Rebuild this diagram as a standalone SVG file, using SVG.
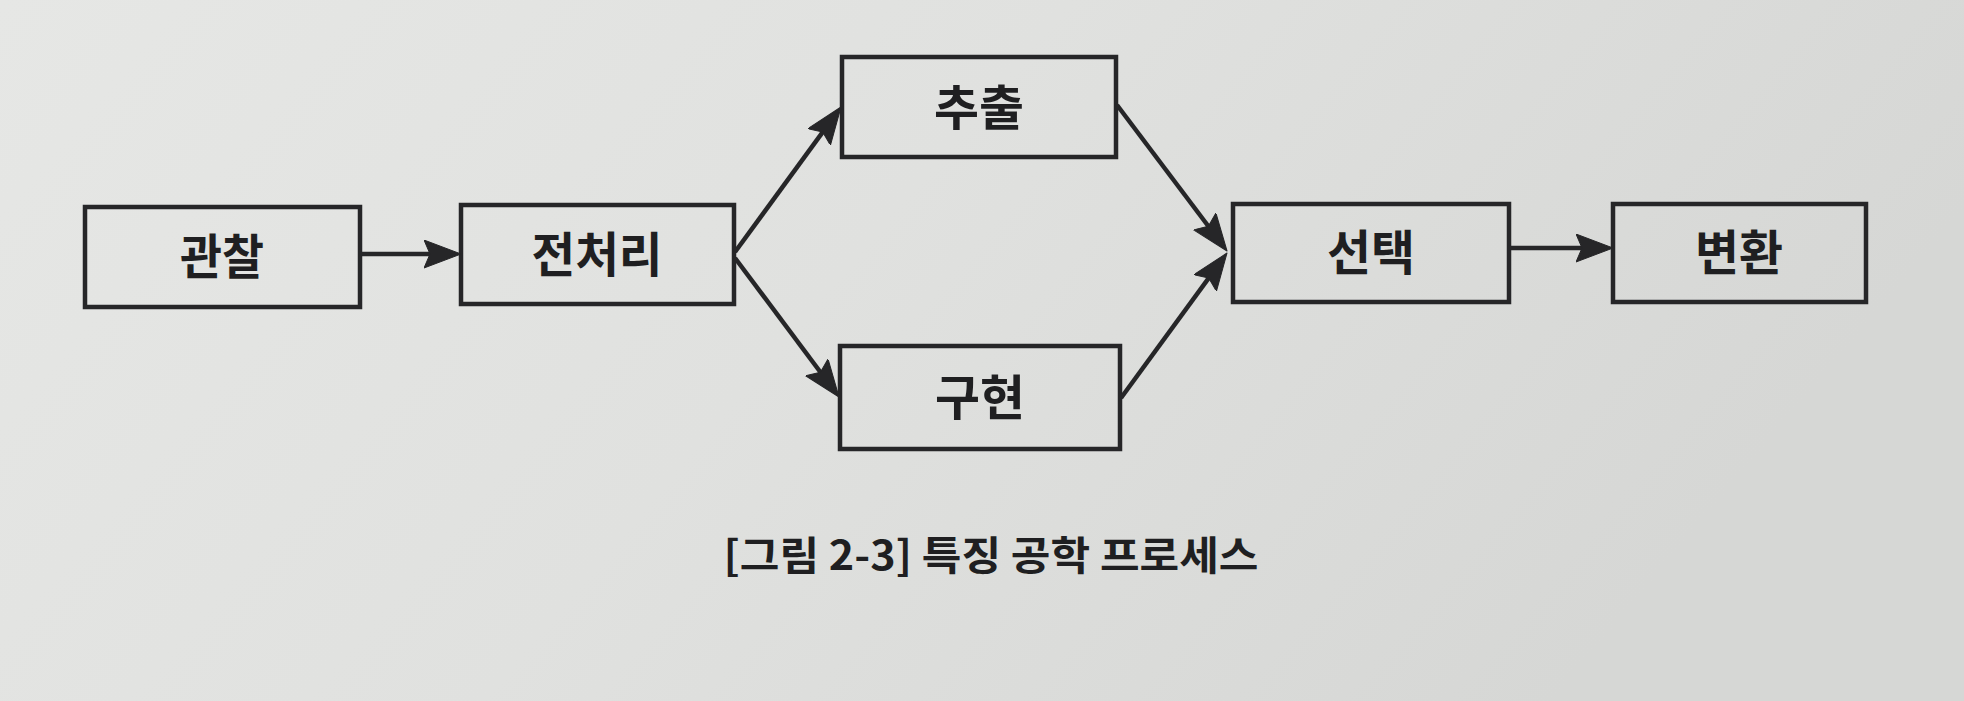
<svg xmlns="http://www.w3.org/2000/svg" width="1964" height="701" viewBox="0 0 1964 701">
<defs>
<linearGradient id="bg" x1="0" y1="0" x2="1" y2="0.3">
<stop offset="0" stop-color="#e6e7e5"/>
<stop offset="0.5" stop-color="#e0e1df"/>
<stop offset="1" stop-color="#d6d7d5"/>
</linearGradient>
<marker id="arr" markerUnits="userSpaceOnUse" markerWidth="40" markerHeight="30" refX="27" refY="14" orient="auto">
<path d="M0,0 L37,14 L0,28 L6,14 Z" fill="#262628" stroke="#262628" stroke-width="1" stroke-linejoin="round"/>
</marker>
<style>
.box{fill:none;stroke:#262628;stroke-width:4.5}
.lbl{font-family:"Noto Sans CJK KR","Noto Sans",sans-serif;font-weight:700;font-size:48px;fill:#1f1f21;text-anchor:middle}
.cap{font-family:"Noto Sans CJK KR","Noto Sans",sans-serif;font-weight:700;font-size:40px;fill:#1f1f21;text-anchor:middle}
.con{stroke:#262628;stroke-width:4.5;fill:none;marker-end:url(#arr)}
</style>
</defs>
<rect x="0" y="0" width="1964" height="701" fill="url(#bg)"/>
<g id="n-observe">
<rect class="box" x="85" y="207" width="275" height="100"/>
<text class="lbl" x="222" y="274" textLength="84" lengthAdjust="spacingAndGlyphs">관찰</text>
</g>
<g id="n-preprocess">
<rect class="box" x="461" y="205" width="273" height="99"/>
<text class="lbl" x="597" y="272" textLength="131" lengthAdjust="spacingAndGlyphs">전처리</text>
</g>
<g id="n-extract">
<rect class="box" x="842" y="57" width="274" height="100"/>
<text class="lbl" x="979" y="125" textLength="90" lengthAdjust="spacingAndGlyphs">추출</text>
</g>
<g id="n-construct">
<rect class="box" x="840" y="346" width="280" height="103"/>
<text class="lbl" x="980" y="415" textLength="90" lengthAdjust="spacingAndGlyphs">구현</text>
</g>
<g id="n-select">
<rect class="box" x="1233" y="204" width="276" height="98"/>
<text class="lbl" x="1371" y="270" textLength="88" lengthAdjust="spacingAndGlyphs">선택</text>
</g>
<g id="n-transform">
<rect class="box" x="1613" y="204" width="253" height="98"/>
<text class="lbl" x="1739" y="270" textLength="88" lengthAdjust="spacingAndGlyphs">변환</text>
</g>
<g id="connectors">
<line class="con" x1="360" y1="254" x2="451" y2="254"/>
<line class="con" x1="735" y1="252" x2="835.1" y2="115.1"/>
<line class="con" x1="735" y1="258" x2="833" y2="389"/>
<line class="con" x1="1117" y1="105" x2="1221" y2="243"/>
<line class="con" x1="1121" y1="398" x2="1221.1" y2="261.1"/>
<line class="con" x1="1509" y1="248" x2="1603" y2="248"/>
</g>
<text class="cap" x="991" y="570" textLength="535" lengthAdjust="spacingAndGlyphs">[그림 2-3] 특징 공학 프로세스</text>
</svg>
